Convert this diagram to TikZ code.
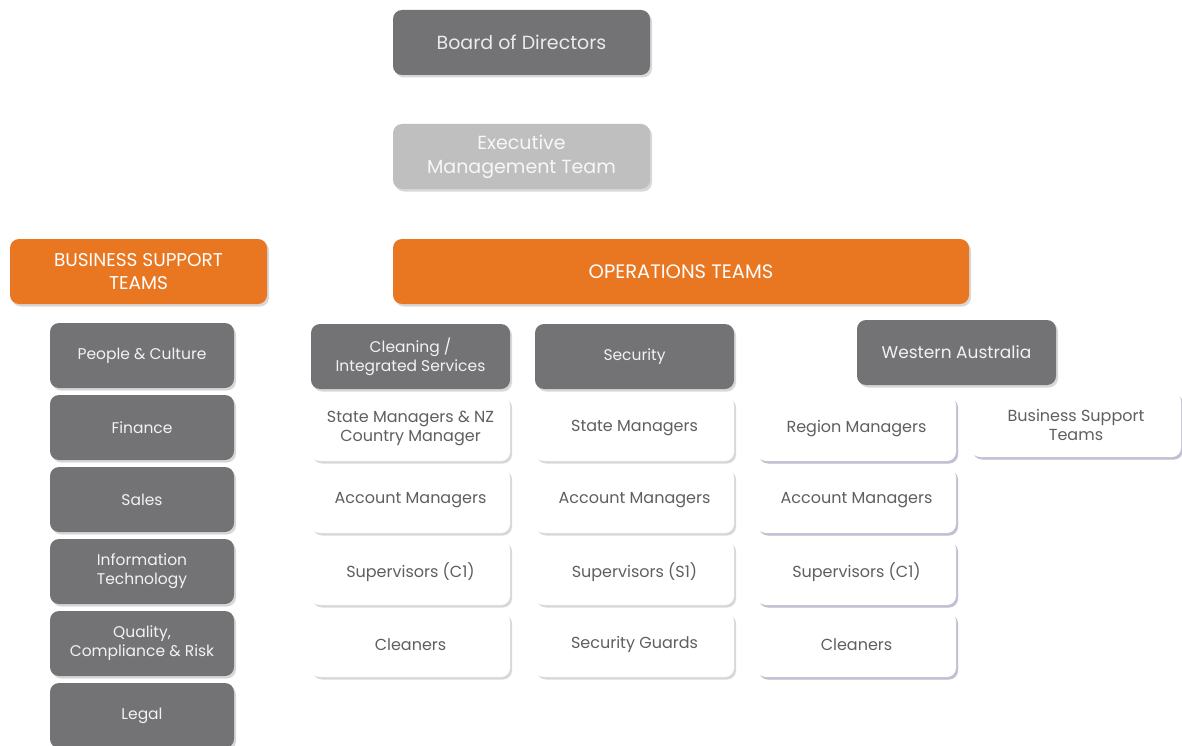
\documentclass[tikz,border=0pt]{standalone}
\usepackage{fontspec}
\setmainfont{Poppins}
\usetikzlibrary{shadows}
\definecolor{darkbox}{RGB}{115,115,117}
\definecolor{lightbox}{RGB}{191,191,191}
\definecolor{orangebox}{RGB}{233,119,34}
\definecolor{boxtext}{RGB}{95,95,95}
\tikzset{unit/.style={rounded corners=9pt,align=center,inner sep=2pt,
	minimum height=65pt,drop shadow={shadow xshift=2pt,shadow yshift=-2.5pt,opacity=0.3}}}
\tikzset{darkunit/.style={unit,fill=darkbox,text=white!95!black,minimum width=#1,
	font=\fontsize{15.5}{19}\selectfont},darkunit/.default=184pt}
\tikzset{headunit/.style={unit,fill=orangebox,text=white,minimum width=#1,
	font=\fontsize{19}{24}\selectfont},headunit/.default=257pt}
\tikzset{roleunit/.style={unit,fill=white,text=boxtext,minimum width=199pt,
	font=\fontsize{16}{19}\selectfont}}
\tikzset{waunit/.style={roleunit,drop shadow={shadow xshift=2pt,shadow yshift=-2.5pt,
	opacity=0.4,fill=blue!30!gray!60}}}

\begin{document}
\begin{tikzpicture}[x=1pt,y=-1pt]

	\useasboundingbox [fill=white] (0,0) rectangle (1182,746);

	% Direccao
	\node [headunit,fill=darkbox,text=white!92!black] (board) at (521.5,42.5)
		{Board of Directors};
	\node [headunit,fill=lightbox,text=white!97!black] (exec) at (521.5,156.5)
		{Executive\\Management Team};

	% Os dois grupos
	\node [headunit,font=\fontsize{18.5}{23}\selectfont] (support) at (138.5,271.5)
		{BUSINESS SUPPORT\\TEAMS};
	\node [headunit=576pt,font=\fontsize{19.5}{23}\selectfont] (ops) at (681,271.5)
		{OPERATIONS TEAMS};

	% Coluna de apoio
	\node [darkunit] (people)  at (142,355.5) {People \& Culture};
	\node [darkunit] (finance) at (142,427.5) {Finance};
	\node [darkunit] (sales)   at (142,499.5) {Sales};
	\node [darkunit] (it)      at (142,571.5) {Information\\Technology};
	\node [darkunit] (quality) at (142,643.5) {Quality,\\Compliance \& Risk};
	\node [darkunit] (legal)   at (142,715.5) {Legal};

	% Cabecas das operacoes
	\node [darkunit=199pt] (cleaning) at (410.5,356.5)
		{Cleaning /\\Integrated Services};
	\node [darkunit=199pt] (security) at (634.5,356.5) {Security};
	\node [darkunit=199pt,font=\fontsize{17}{20}\selectfont] (wa) at (956.5,352.5)
		{Western Australia};

	% Limpeza
	\node [roleunit] (clean state)  at (410.5,428.5)
		{State Managers \& NZ\\Country Manager};
	\node [roleunit] (clean acct)   at (410.5,500.5) {Account Managers};
	\node [roleunit] (clean super)  at (410.5,572.5) {Supervisors (C1)};
	\node [roleunit] (clean staff)  at (410.5,644.5) {Cleaners};

	% Seguranca
	\node [roleunit] (sec state)  at (634.5,428.5) {State Managers};
	\node [roleunit] (sec acct)   at (634.5,500.5) {Account Managers};
	\node [roleunit] (sec super)  at (634.5,572.5) {Supervisors (S1)};
	\node [roleunit] (sec staff)  at (634.5,644.5) {Security Guards};

	% Australia Ocidental
	\node [waunit] (wa region) at (856.5,428.5) {Region Managers};
	\node [waunit] (wa acct)   at (856.5,500.5) {Account Managers};
	\node [waunit] (wa super)  at (856.5,572.5) {Supervisors (C1)};
	\node [waunit] (wa staff)  at (856.5,644.5) {Cleaners};
	\node [waunit,minimum width=210pt] (wa support) at (1076,424.5)
		{Business Support\\Teams};

\end{tikzpicture}
\end{document}
